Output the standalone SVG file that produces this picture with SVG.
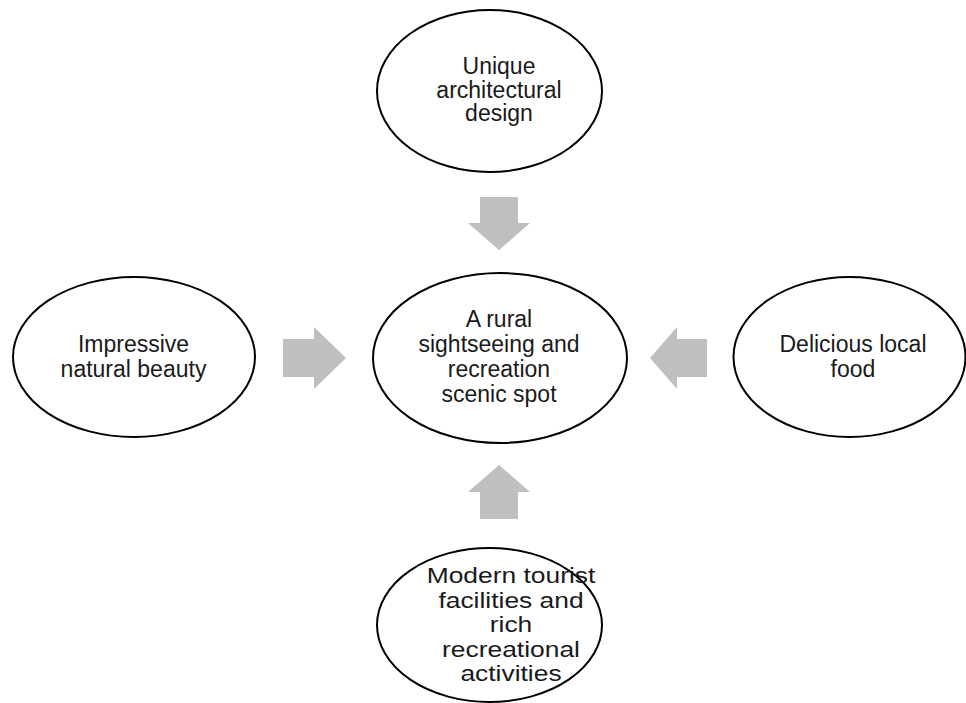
<svg xmlns="http://www.w3.org/2000/svg" width="966" height="703" viewBox="0 0 966 703">
<style>
.node ellipse{fill:#fff;stroke:#000;stroke-width:2}
.node text{font-family:"Liberation Sans",Arial,sans-serif;font-size:23px;fill:#1a1a1a;text-anchor:middle}
#node-bottom text{font-size:22px}
.arrow{fill:#bfbfbf;stroke:none}
</style>
<rect width="966" height="703" fill="#fff"/>
<g id="connectors">
<polygon class="arrow" points="480,197 518,197 518,223 530,223 499,250 468,223 480,223"/>
<polygon class="arrow" points="283,339 314,339 314,327 346,358 314,389 314,377 283,377"/>
<polygon class="arrow" points="707,339 677,339 677,327 650,358 677,389 677,377 707,377"/>
<polygon class="arrow" points="480,519 518,519 518,492 530,492 499,465 468,492 480,492"/>
</g>
<g id="node-top" class="node">
<ellipse cx="489.5" cy="91" rx="112.5" ry="81"/>
<text x="499" y="74">Unique</text>
<text x="499" y="97.5">architectural</text>
<text x="499" y="121">design</text>
</g>
<g id="node-left" class="node">
<ellipse cx="134" cy="357" rx="121" ry="80"/>
<text x="133.5" y="352">Impressive</text>
<text x="133.5" y="377">natural beauty</text>
</g>
<g id="node-center" class="node">
<ellipse cx="500" cy="358" rx="127" ry="85"/>
<text x="499" y="327">A rural</text>
<text x="499" y="352">sightseeing and</text>
<text x="499" y="377">recreation</text>
<text x="499" y="402">scenic spot</text>
</g>
<g id="node-right" class="node">
<ellipse cx="849.5" cy="357" rx="116" ry="80"/>
<text x="853" y="352">Delicious local</text>
<text x="853" y="377">food</text>
</g>
<g id="node-bottom" class="node">
<ellipse cx="489.5" cy="625" rx="112.5" ry="77"/>
<g transform="translate(511,0) scale(1.2,1)">
<text x="0" y="583">Modern tourist</text>
<text x="0" y="608">facilities and</text>
<text x="0" y="632">rich</text>
<text x="0" y="657">recreational</text>
<text x="0" y="681">activities</text>
</g>
</g>
</svg>
